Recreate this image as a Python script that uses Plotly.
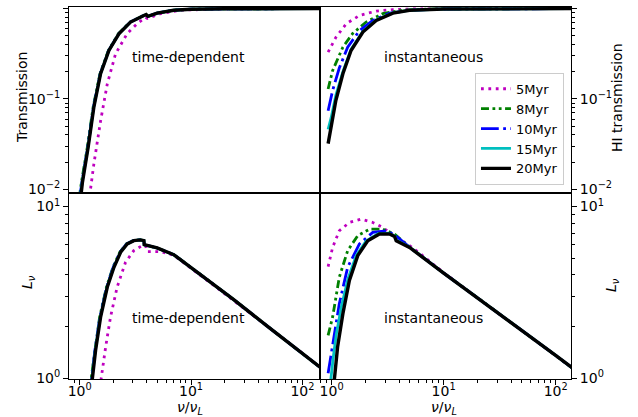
import plotly.graph_objects as go
from plotly.subplots import make_subplots

# ---------------- data ----------------
labels = ["5Myr", "8Myr", "10Myr", "15Myr", "20Myr"]

# Top-left: time-dependent transmission
td_T_x_5 = [1.22, 1.24, 1.34, 1.54, 1.77, 2.10, 2.67, 3.28, 3.9, 4.04, 4.3, 5.31, 8.0, 12, 20, 50, 160]
td_T_y_5 = [0.007, 0.0092, 0.019, 0.057, 0.147, 0.316, 0.53, 0.68, 0.8, 0.78, 0.8, 0.88, 0.96, 0.98, 0.995, 1.0, 1.0]
td_T_x_8 = [0.99, 1.035, 1.17, 1.32, 1.52, 1.81, 2.22, 2.83, 3.75, 3.95, 4.1, 4.96, 6.99, 10, 20, 50, 160]
td_T_y_8 = [0.008, 0.0118, 0.029, 0.081, 0.19, 0.344, 0.527, 0.71, 0.84, 0.86, 0.82, 0.89, 0.96, 0.985, 0.995, 1.0, 1.0]
td_T_x_10 = [1.0, 1.045, 1.18, 1.33, 1.53, 1.82, 2.24, 2.85, 3.76, 3.95, 4.1, 4.96, 6.99, 10, 20, 50, 160]
td_T_y_10 = [0.008, 0.0118, 0.029, 0.081, 0.19, 0.344, 0.527, 0.71, 0.84, 0.86, 0.82, 0.89, 0.96, 0.985, 0.995, 1.0, 1.0]
td_T_x_15 = [1.01, 1.05, 1.185, 1.335, 1.535, 1.825, 2.245, 2.855, 3.77, 3.95, 4.1, 4.96, 6.99, 10, 20, 50, 160]
td_T_y_15 = [0.008, 0.0118, 0.029, 0.081, 0.19, 0.344, 0.527, 0.71, 0.84, 0.86, 0.82, 0.89, 0.96, 0.985, 0.995, 1.0, 1.0]
td_T_x_20 = [1.02, 1.057, 1.19, 1.34, 1.54, 1.83, 2.25, 2.86, 3.77, 3.95, 4.1, 4.96, 6.99, 10, 20, 50, 160]
td_T_y_20 = [0.008, 0.0118, 0.029, 0.081, 0.19, 0.344, 0.527, 0.71, 0.84, 0.86, 0.82, 0.89, 0.96, 0.985, 0.995, 1.0, 1.0]

# Top-right: instantaneous transmission
in_T_x_5 = [0.93, 1.09, 1.35, 1.77, 2.5, 3.5, 5, 10, 20, 160]
in_T_y_5 = [0.33, 0.48, 0.68, 0.84, 0.94, 0.975, 0.99, 1.0, 1.0, 1.0]
in_T_x_8 = [0.93, 1.02, 1.26, 1.54, 2.03, 2.86, 4, 6, 10, 160]
in_T_y_8 = [0.129, 0.206, 0.375, 0.53, 0.71, 0.88, 0.95, 0.98, 0.995, 1.0]
in_T_x_10 = [0.93, 1.02, 1.17, 1.39, 1.77, 2.33, 3.29, 5, 10, 160]
in_T_y_10 = [0.074, 0.124, 0.22, 0.375, 0.57, 0.74, 0.89, 0.96, 0.99, 1.0]
in_T_x_15 = [0.93, 0.99, 1.09, 1.26, 1.49, 1.90, 2.5, 3.52, 5, 10, 160]
in_T_y_15 = [0.046, 0.062, 0.11, 0.2, 0.355, 0.56, 0.75, 0.895, 0.96, 0.99, 1.0]
in_T_x_20 = [0.93, 0.99, 1.09, 1.26, 1.49, 1.90, 2.5, 3.52, 4.96, 10, 160]
in_T_y_20 = [0.032, 0.048, 0.096, 0.19, 0.344, 0.55, 0.74, 0.89, 0.96, 0.99, 1.0]

# Bottom-left: time-dependent luminosity
td_L_x_5 = [1.5, 1.56, 1.71, 1.89, 2.17, 2.58, 3.06, 3.64, 3.9, 4.04, 5.31, 6.99, 12, 24, 48, 100, 160]
td_L_y_5 = [0.8, 1.0, 1.52, 2.27, 3.40, 4.74, 5.54, 5.92, 5.95, 5.47, 5.47, 5.2, 4.0, 2.86, 2.02, 1.40, 1.10]
td_L_x_8 = [1.21, 1.27, 1.36, 1.51, 1.74, 1.99, 2.29, 2.63, 3.02, 3.5, 3.77, 3.8, 4.96, 6.99, 12, 24, 48, 100, 160]
td_L_y_8 = [0.8, 1.0, 1.46, 2.27, 3.40, 4.43, 5.42, 6.06, 6.33, 6.4, 6.33, 6.0, 5.74, 5.25, 4.05, 2.88, 2.02, 1.40, 1.10]
td_L_x_10 = [1.23, 1.28, 1.37, 1.52, 1.75, 2.0, 2.3, 2.64, 3.03, 3.5, 3.77, 3.8, 4.96, 6.99, 12, 24, 48, 100, 160]
td_L_y_10 = [0.8, 1.0, 1.46, 2.27, 3.40, 4.43, 5.42, 6.06, 6.33, 6.4, 6.33, 6.0, 5.74, 5.25, 4.05, 2.88, 2.02, 1.40, 1.10]
td_L_x_15 = [1.24, 1.29, 1.38, 1.53, 1.76, 2.02, 2.32, 2.66, 3.05, 3.5, 3.77, 3.8, 4.96, 6.99, 12, 24, 48, 100, 160]
td_L_y_15 = [0.8, 1.0, 1.46, 2.27, 3.40, 4.43, 5.42, 6.06, 6.33, 6.4, 6.33, 6.0, 5.74, 5.25, 4.05, 2.88, 2.02, 1.40, 1.10]
td_L_x_20 = [1.25, 1.30, 1.39, 1.54, 1.77, 2.03, 2.33, 2.67, 3.06, 3.5, 3.77, 3.8, 4.96, 6.99, 12, 24, 48, 100, 160]
td_L_y_20 = [0.8, 1.0, 1.46, 2.27, 3.40, 4.43, 5.42, 6.06, 6.33, 6.4, 6.33, 6.0, 5.74, 5.25, 4.05, 2.88, 2.02, 1.40, 1.10]

# Bottom-right: instantaneous luminosity
in_L_x_5 = [0.93, 1.02, 1.17, 1.44, 1.83, 2.33, 2.86, 3.77, 4.96, 6.0, 10, 20, 50, 100, 160]
in_L_y_5 = [4.47, 5.78, 7.23, 8.08, 8.45, 8.08, 7.55, 6.61, 5.92, 5.4, 4.12, 2.95, 1.90, 1.36, 1.08]
in_L_x_8 = [0.93, 1.02, 1.17, 1.39, 1.71, 2.18, 2.86, 3.64, 4.96, 10, 20, 50, 100, 160]
in_L_y_8 = [1.78, 2.27, 3.88, 5.54, 6.77, 7.39, 7.39, 6.92, 5.82, 4.1, 2.95, 1.90, 1.36, 1.08]
in_L_x_10 = [0.93, 1.02, 1.17, 1.39, 1.77, 2.33, 3.07, 3.7, 4.96, 10, 20, 50, 100, 160]
in_L_y_10 = [1.07, 1.52, 2.72, 4.43, 6.06, 7.07, 7.23, 6.8, 5.8, 4.1, 2.95, 1.90, 1.36, 1.08]
in_L_x_15 = [0.95, 0.98, 1.03, 1.1, 1.22, 1.40, 1.66, 2.03, 2.6, 3.2, 3.64, 3.77, 4.96, 10, 20, 50, 100, 160]
in_L_y_15 = [0.8, 1.0, 1.3, 1.8, 2.6, 3.8, 5.2, 6.3, 6.95, 7.0, 6.75, 6.4, 5.8, 4.1, 2.95, 1.90, 1.36, 1.08]
in_L_x_20 = [1.0, 1.06, 1.13, 1.26, 1.44, 1.71, 2.10, 2.67, 3.29, 3.64, 3.77, 4.96, 10, 20, 50, 100, 160]
in_L_y_20 = [0.75, 1.0, 1.52, 2.38, 3.71, 5.18, 6.33, 6.92, 6.92, 6.70, 6.33, 5.78, 4.1, 2.95, 1.90, 1.36, 1.08]

panel_text = ["time-dependent", "instantaneous"]

# ---------------- styles ----------------
colors = ["#bf00bf", "#008000", "#0000ff", "#00bfbf", "#000000"]
dashes = ["2.8px,4.6px", "8px,3.5px,2.8px,3.5px,2.8px,3.5px",
          "17.8px,4.4px,2.8px,4.4px", "solid", "solid"]
widths = [2.8, 2.8, 2.8, 2.8, 3.4]

FONT = "DejaVu Sans"
FS = 14

fig = make_subplots(rows=2, cols=2, horizontal_spacing=0, vertical_spacing=0)

panels = [
    (1, 1, [(td_T_x_5, td_T_y_5), (td_T_x_8, td_T_y_8), (td_T_x_10, td_T_y_10), (td_T_x_15, td_T_y_15), (td_T_x_20, td_T_y_20)]),
    (1, 2, [(in_T_x_5, in_T_y_5), (in_T_x_8, in_T_y_8), (in_T_x_10, in_T_y_10), (in_T_x_15, in_T_y_15), (in_T_x_20, in_T_y_20)]),
    (2, 1, [(td_L_x_5, td_L_y_5), (td_L_x_8, td_L_y_8), (td_L_x_10, td_L_y_10), (td_L_x_15, td_L_y_15), (td_L_x_20, td_L_y_20)]),
    (2, 2, [(in_L_x_5, in_L_y_5), (in_L_x_8, in_L_y_8), (in_L_x_10, in_L_y_10), (in_L_x_15, in_L_y_15), (in_L_x_20, in_L_y_20)]),
]

for r, c, series in panels:
    for i, (xs, ys) in enumerate(series):
        fig.add_trace(go.Scatter(
            x=xs, y=ys, mode="lines", name=labels[i],
            line=dict(color=colors[i], dash=dashes[i], width=widths[i]),
            showlegend=(r == 1 and c == 2),
        ), row=r, col=c)

minor_x = [m * 10 ** e for e in range(-1, 3) for m in range(2, 10)]
minor_top = [m * 10 ** e for e in range(-3, 1) for m in range(2, 10)]
minor_bot = [m * 10 ** e for e in range(-1, 2) for m in range(2, 10)]

common = dict(showline=True, linecolor="black", linewidth=1, mirror=True,
              showgrid=False, zeroline=False, type="log",
              tickfont=dict(family=FONT, size=FS, color="black"))

xtick_vals = [1, 10, 100]
xtick_text = ["10<sup>0</sup>", "10<sup>1</sup>", "10<sup>2</sup>"]
ytop_vals = [0.01, 0.1, 1]
ytop_text = ["10<sup>−2</sup>", "10<sup>−1</sup>", "10<sup>0</sup>"]
ybot_vals = [1, 10]
ybot_text = ["10<sup>0</sup>", "10<sup>1</sup>"]

xr_left = [-0.096, 2.158]
xr_right = [-0.104, 2.137]
yr_top = [-2.041, 0.018]
yr_bot = [-0.004, 1.079]

# top panels: no x ticks
fig.update_xaxes(common, row=1, col=1, range=xr_left, showticklabels=False, ticks="")
fig.update_xaxes(common, row=1, col=2, range=xr_right, showticklabels=False, ticks="")
for col, rng in [(1, xr_left), (2, xr_right)]:
    fig.update_xaxes(common, row=2, col=col, range=rng, tickmode="array",
                     tickvals=xtick_vals, ticktext=xtick_text, ticks="outside",
                     ticklen=5, tickwidth=1, tickcolor="black", ticklabelstandoff=-6,
                     minor=dict(tickmode="array", tickvals=minor_x, ticks="outside",
                                ticklen=3, tickwidth=0.8, tickcolor="black", showgrid=False))

for col in [1, 2]:
    side = "left" if col == 1 else "right"
    fig.update_yaxes(common, row=1, col=col, range=yr_top, side=side, tickmode="array",
                     tickvals=ytop_vals, ticktext=ytop_text, ticks="outside",
                     ticklen=5, tickwidth=1, tickcolor="black",
                     minor=dict(tickmode="array", tickvals=minor_top, ticks="outside",
                                ticklen=3, tickwidth=0.8, tickcolor="black", showgrid=False))
    fig.update_yaxes(common, row=2, col=col, range=yr_bot, side=side, tickmode="array",
                     tickvals=ybot_vals, ticktext=ybot_text, ticks="outside",
                     ticklen=5, tickwidth=1, tickcolor="black",
                     minor=dict(tickmode="array", tickvals=minor_bot, ticks="outside",
                                ticklen=3, tickwidth=0.8, tickcolor="black", showgrid=False))

W, H = 638, 417
ML, MR, MT, MB = 69, 67, 7, 38
PW, PH = W - ML - MR, H - MT - MB


def px2paper(px, py):
    return (px - ML) / PW, (H - MB - py) / PH


annots = []
for (px, py, txt) in [(188.5, 57, panel_text[0]), (188.5, 318, panel_text[0]),
                      (433, 57, panel_text[1]), (433, 318, panel_text[1])]:
    x, y = px2paper(px, py)
    annots.append(dict(x=x, y=y, xref="paper", yref="paper", text=txt, showarrow=False,
                       font=dict(family=FONT, size=FS, color="black"),
                       xanchor="center", yanchor="middle"))

for (px, py, txt, ang) in [(22, 98, "Transmission", -90), (28, 282, "<i>L</i><sub><i>ν</i></sub>", -90),
                           (617, 98, "HI transmission", -90), (612, 285, "<i>L</i><sub><i>ν</i></sub>", -90)]:
    x, y = px2paper(px, py)
    annots.append(dict(x=x, y=y, xref="paper", yref="paper", text=txt, showarrow=False,
                       textangle=ang, font=dict(family=FONT, size=FS, color="black"),
                       xanchor="center", yanchor="middle"))

for px in [190, 444]:
    x, y = px2paper(px, 418)
    annots.append(dict(x=x, y=y, xref="paper", yref="paper",
                       text="<i>ν</i>/<i>ν</i><sub><i>L</i></sub>", showarrow=False,
                       font=dict(family=FONT, size=FS, color="black"),
                       xanchor="center", yanchor="bottom", borderpad=0))

fig.update_layout(
    width=W, height=H,
    margin=dict(l=ML, r=MR, t=MT, b=MB, pad=0),
    paper_bgcolor="white", plot_bgcolor="white",
    font=dict(family=FONT, size=FS, color="black"),
    annotations=annots,
    legend=dict(x=0.986, y=0.522, xanchor="right", yanchor="bottom",
                bgcolor="rgba(255,255,255,0.8)", bordercolor="#cccccc", borderwidth=1,
                font=dict(family=FONT, size=13, color="black"),
                tracegroupgap=0, itemwidth=30),
)

fig.write_html("out.html")
